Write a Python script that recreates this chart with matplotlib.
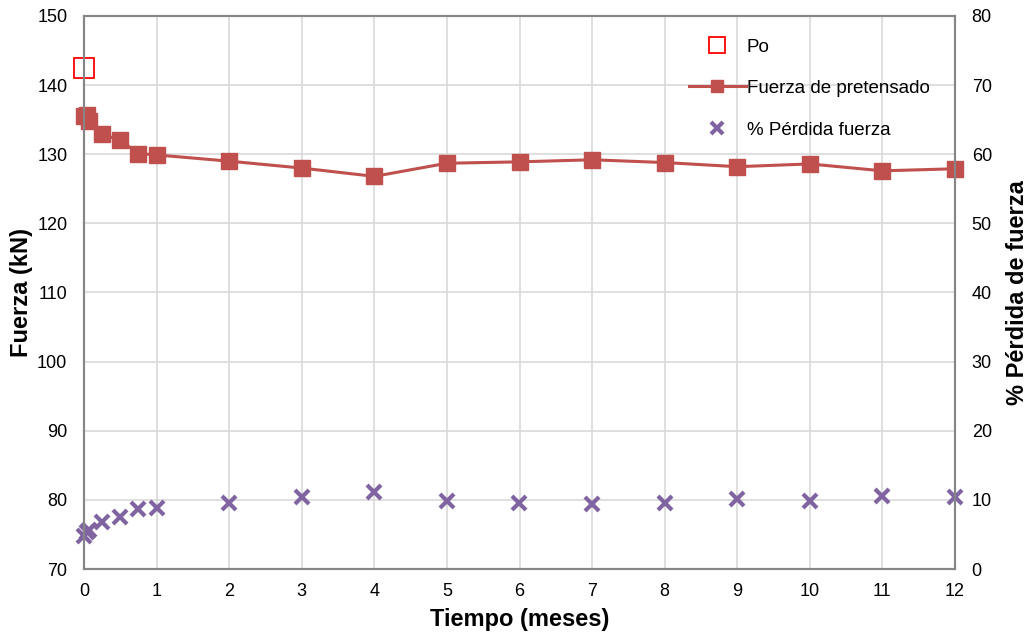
import matplotlib
matplotlib.use("Agg")
import matplotlib.pyplot as plt

plt.rcParams["font.family"] = ["Liberation Sans", "DejaVu Sans"]

# =====================================================
# DATA
# =====================================================

po_t = [0]
po_kn = [142.5]

t_meses = [0, 0.04, 0.07, 0.25, 0.5, 0.75, 1, 2, 3, 4, 5, 6, 7, 8, 9, 10, 11, 12]
fuerza_kn = [135.6, 135.7, 134.8, 132.9, 132.0, 130.1, 129.9, 129.0, 128.0, 126.8,
             128.7, 128.9, 129.2, 128.8, 128.2, 128.6, 127.6, 127.9]
perdida_pct = [4.8, 5.3, 5.6, 6.8, 7.5, 8.7, 8.8, 9.5, 10.4, 11.2,
               9.8, 9.6, 9.4, 9.6, 10.1, 9.8, 10.5, 10.4]

x_ticks = list(range(0, 13))
y_left_ticks = list(range(70, 151, 10))
y_right_ticks = list(range(0, 81, 10))

# =====================================================
# PLOT
# =====================================================

fig = plt.figure(figsize=(10.29, 6.36), dpi=100)
ax = fig.add_axes([84 / 1029, 1 - 569 / 636, 871 / 1029, 553 / 636])
ax2 = ax.twinx()

ax.set_xlim(0, 12)
ax.set_ylim(70, 150)
ax2.set_ylim(0, 80)
ax.set_xticks(x_ticks)
ax.set_yticks(y_left_ticks)
ax2.set_yticks(y_right_ticks)

ax.grid(True, color="#d9d9d9", linewidth=1.2)
ax.set_axisbelow(True)

for a in (ax, ax2):
    for s in a.spines.values():
        s.set_color("#868686")
        s.set_linewidth(1.5)
    a.tick_params(length=0, labelsize=13)
ax.tick_params(axis="y", pad=12)
ax.tick_params(axis="x", pad=10)
ax2.tick_params(axis="y", pad=12)

ax.plot(po_t, po_kn, linestyle="none", marker="s", markersize=14,
        markerfacecolor="white", markeredgecolor="#ff0000", markeredgewidth=1.3,
        label="Po", clip_on=False, zorder=5)
ax.plot(t_meses, fuerza_kn, color="#c0504d", linewidth=2.2, marker="s",
        markersize=11, label="Fuerza de pretensado", clip_on=False, zorder=4)
ax2.plot(t_meses, perdida_pct, linestyle="none", marker="x", markersize=10.5,
         markeredgewidth=3, color="#8064a2", label="% Pérdida fuerza", clip_on=False)

ax.set_xlabel("Tiempo (meses)", fontsize=17, fontweight="bold", labelpad=6)
ax.set_ylabel("Fuerza (kN)", fontsize=17, fontweight="bold")
ax2.set_ylabel("% Pérdida de fuerza", fontsize=17, fontweight="bold")
ax.yaxis.set_label_coords(-0.058, 0.5)
ax2.yaxis.set_label_coords(1.058, 0.5)

h1, l1 = ax.get_legend_handles_labels()
h2, l2 = ax2.get_legend_handles_labels()
leg = ax2.legend(h1 + h2, l1 + l2, loc="upper right", bbox_to_anchor=(0.99, 0.99),
                 frameon=False, fontsize=13.5, labelspacing=1.3, handlelength=3.0,
                 handletextpad=0.05, markerscale=0.8)

fig.savefig("out.png", dpi=100)
